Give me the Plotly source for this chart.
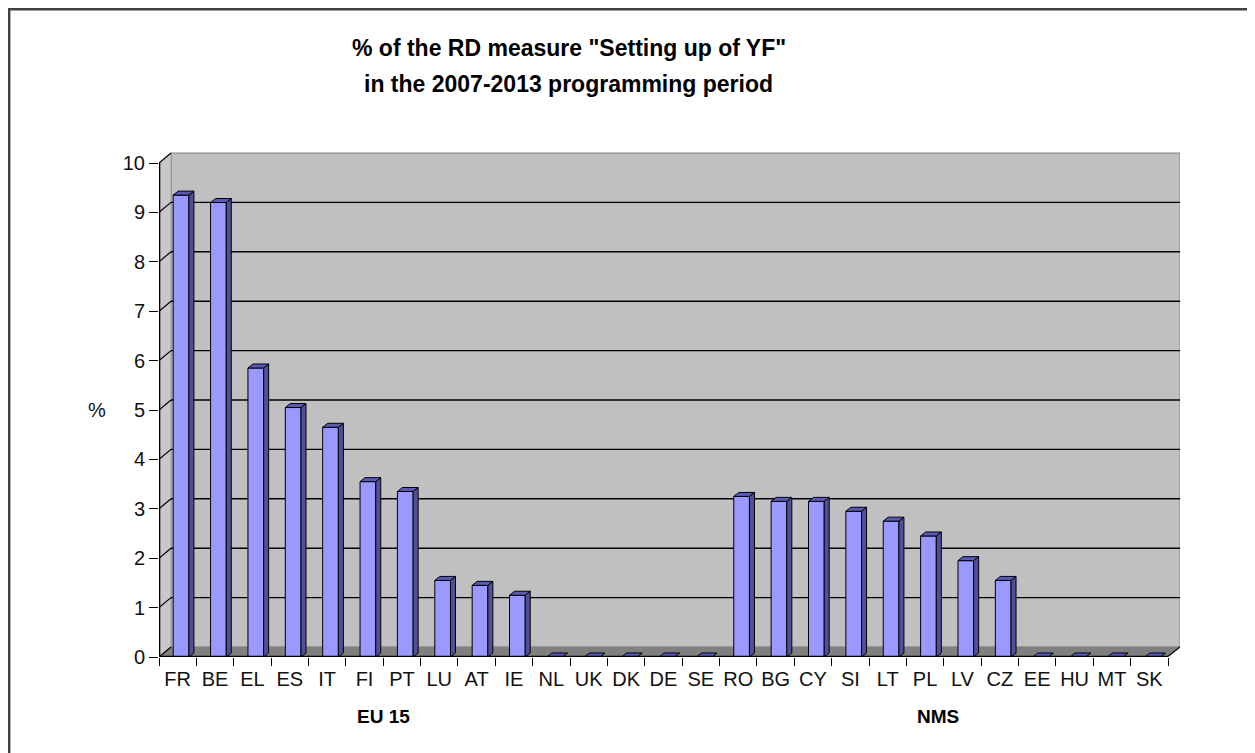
import plotly.graph_objects as go

# ---------------- data ----------------
categories = ["FR", "BE", "EL", "ES", "IT", "FI", "PT", "LU", "AT", "IE", "NL", "UK", "DK", "DE", "SE",
              "RO", "BG", "CY", "SI", "LT", "PL", "LV", "CZ", "EE", "HU", "MT", "SK"]
values = [9.35, 9.2, 5.85, 5.05, 4.65, 3.55, 3.35, 1.55, 1.45, 1.25, 0, 0, 0, 0, 0,
          3.25, 3.15, 3.15, 2.95, 2.75, 2.45, 1.95, 1.55, 0, 0, 0, 0]
y_ticks = list(range(0, 11))
group_labels = ["EU 15", "NMS"]
title_lines = ['% of the RD measure "Setting up of YF"', "in the 2007-2013 programming period"]
y_title = "%"

# ---------------- geometry ----------------
OFF = 8                              # page body margin of the browser
W, H = 1255 - OFF, 753 - OFF
L = 159 - OFF
T = 150 - OFF
B = H - (657 - OFF)
R = W - (1180 - OFF)
PXC = (1168 - 159) / 27.0          # pixels per category
PXU = 49.4                          # pixels per y unit
plot_w = W - L - R
plot_h = H - T - B
x_lo = -0.5
x_hi = x_lo + plot_w / PXC
y_hi = plot_h / PXU
DX = 12 / PXC                       # wall depth offset
DY = 10 / PXU
BDX = 5 / PXC                       # bar depth
BDY = 4 / PXU
BOFF = -0.12                        # bar front face offset
BW = 0.42                           # bar width
n = len(categories)
idx = list(range(n))


def xp(px):
    return (px - OFF - L) / plot_w


def yp(py):
    return (H - B - (py - OFF)) / plot_h


FONT = "Liberation Sans, Arial, sans-serif"
shapes = []

# border of the chart area
shapes.append(dict(type="rect", xref="paper", yref="paper", x0=xp(9.2), x1=xp(1251.5), y0=yp(775), y1=yp(9.2),
                   line=dict(color="#404040", width=2.4), fillcolor="rgba(0,0,0,0)", layer="above"))

# back wall
shapes.append(dict(type="rect", xref="x", yref="y", x0=x_lo + DX, x1=n - 0.5 + DX, y0=DY, y1=10 + DY,
                   fillcolor="#C0C0C0", line=dict(color="#808080", width=1), layer="below"))
# floor
shapes.append(dict(type="path", xref="x", yref="y",
                   path=f"M {x_lo},0 L {n-0.5},0 L {n-0.5+DX},{DY} L {x_lo+DX},{DY} Z",
                   fillcolor="#808080", line=dict(color="#808080", width=0.5), layer="below"))
# side wall
shapes.append(dict(type="path", xref="x", yref="y",
                   path=f"M {x_lo},0 L {x_lo+DX},{DY} L {x_lo+DX},{10+DY} L {x_lo},10 Z",
                   fillcolor="#C8C8C8", line=dict(color="#808080", width=0.5), layer="below"))
# gridlines on back wall + diagonal ticks on side wall
for k in y_ticks:
    if 0 < k < 10:
        shapes.append(dict(type="line", xref="x", yref="y", x0=x_lo + DX, x1=n - 0.5 + DX, y0=k + DY, y1=k + DY,
                           line=dict(color="black", width=1.4), layer="below"))
    shapes.append(dict(type="line", xref="x", yref="y", x0=x_lo, x1=x_lo + DX, y0=k, y1=k + DY,
                       line=dict(color="black", width=1.2), layer="below"))
# front axis lines
eps_x = 0.6 / PXC
eps_y = 0.6 / PXU
shapes.append(dict(type="line", xref="x", yref="y", x0=x_lo + eps_x, x1=x_lo + eps_x, y0=0, y1=10,
                   line=dict(color="black", width=1.4), layer="above"))
shapes.append(dict(type="line", xref="x", yref="y", x0=x_lo, x1=n - 0.5, y0=eps_y, y1=eps_y,
                   line=dict(color="black", width=1.4), layer="above"))
shapes.append(dict(type="line", xref="x", yref="y", x0=n - 0.5, x1=n - 0.5 + DX, y0=eps_y, y1=DY,
                   line=dict(color="black", width=1.2), layer="above"))

fig = go.Figure()

# bar side faces and top faces (3D look), derived from the values
side_x, side_y, top_x, top_y = [], [], [], []
for i, v in zip(idx, values):
    xl = i + BOFF
    xr = xl + BW
    if v > 0:
        side_x += [xr, xr + BDX, xr + BDX, xr, xr, None]
        side_y += [0, BDY, v + BDY, v, 0, None]
    top_x += [xl, xl + BDX, xr + BDX, xr, xl, None]
    top_y += [v, v + BDY, v + BDY, v, v, None]

fig.add_trace(go.Scatter(x=side_x, y=side_y, mode="lines", fill="toself", fillcolor="#505096",
                         line=dict(color="black", width=1), hoverinfo="skip", showlegend=False))
fig.add_trace(go.Scatter(x=top_x, y=top_y, mode="lines", fill="toself", fillcolor="#5A5AB4",
                         line=dict(color="black", width=1), hoverinfo="skip", showlegend=False))
fig.add_trace(go.Bar(x=idx, y=values, offset=BOFF, width=BW, marker=dict(color="#9999FF",
                     line=dict(color="black", width=1)), hoverinfo="skip", showlegend=False))

annotations = [
    dict(text=title_lines[0], xref="paper", yref="paper", x=xp(569), y=yp(48), xanchor="center",
         yanchor="middle", showarrow=False, font=dict(family=FONT, size=23, color="black", weight="bold")),
    dict(text=title_lines[1], xref="paper", yref="paper", x=xp(568), y=yp(84), xanchor="center",
         yanchor="middle", showarrow=False, font=dict(family=FONT, size=23, color="black", weight="bold")),
    dict(text=y_title, xref="paper", yref="paper", x=xp(97), y=yp(410), xanchor="center",
         yanchor="middle", showarrow=False, font=dict(family=FONT, size=20, color="#111")),
    dict(text=group_labels[0], xref="x", yref="paper", x=5.5, y=yp(716), xanchor="center",
         yanchor="middle", showarrow=False, font=dict(family=FONT, size=19, color="black", weight="bold")),
    dict(text=group_labels[1], xref="x", yref="paper", x=20.35, y=yp(716), xanchor="center",
         yanchor="middle", showarrow=False, font=dict(family=FONT, size=19, color="black", weight="bold")),
]

fig.update_layout(
    width=W, height=H,
    margin=dict(l=L, r=R, t=T, b=B, pad=0),
    paper_bgcolor="white", plot_bgcolor="white",
    barmode="overlay",
    shapes=shapes, annotations=annotations,
    font=dict(family=FONT, size=20, color="black"),
    xaxis=dict(range=[x_lo, x_hi], tickmode="array", tickvals=idx, ticktext=categories,
               ticks="", showgrid=False, zeroline=False, showline=False,
               tickfont=dict(family=FONT, size=20, color="#111"), ticklabelstandoff=8,
               minor=dict(tickmode="array", tickvals=[i - 0.5 for i in range(n + 1)], ticks="outside",
                          ticklen=8, tickwidth=1.4, tickcolor="black", showgrid=False)),
    yaxis=dict(range=[0, y_hi], tickmode="array", tickvals=y_ticks, ticks="outside", ticklen=9,
               tickwidth=1.4, tickcolor="black", showgrid=False, zeroline=False, showline=False,
               tickfont=dict(family=FONT, size=20, color="#111")),
)

fig.write_html("out.html")
